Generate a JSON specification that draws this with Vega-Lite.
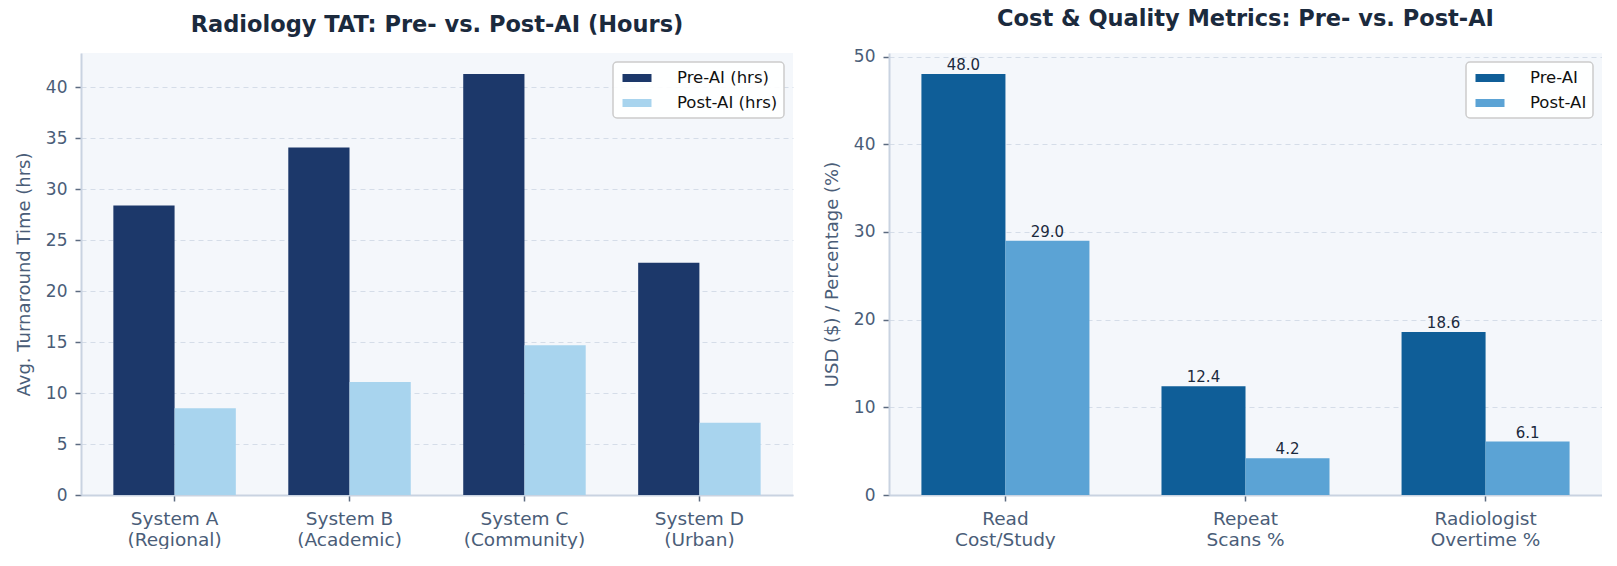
{
  "$schema": "https://vega.github.io/schema/vega-lite/v6.json",
  "background": "white",
  "padding": {"left": 15, "top": 8, "right": 0, "bottom": 0},
  "spacing": 30,
  "config": {
    "font": "DejaVu Sans",
    "view": {"fill": "#f4f7fb", "stroke": null},
    "axis": {
      "labelFont": "DejaVu Sans", "titleFont": "DejaVu Sans",
      "labelColor": "#4a5d78", "titleColor": "#4a5d78",
      "tickColor": "#5c6b80", "tickSize": 6, "tickWidth": 1.5,
      "domainColor": "#c9d3e1", "domainWidth": 2,
      "gridColor": "#d5dde8", "gridDash": [5, 4], "gridWidth": 1,
      "titleFontWeight": "normal"
    },
    "axisX": {"grid": false, "labelAngle": 0, "labelFontSize": 18.5, "labelPadding": 8, "labelLineHeight": 21},
    "axisY": {"grid": true, "labelFontSize": 17, "labelPadding": 8, "titleFontSize": 18, "titlePadding": 12},
    "title": {"fontSize": 22.5, "fontWeight": "bold", "color": "#1b2a3d", "offset": 17, "font": "DejaVu Sans"},
    "legend": {
      "orient": "top-right", "offset": 9, "title": null,
      "labelFont": "DejaVu Sans", "labelFontSize": 16.5, "labelColor": "#111111",
      "fillColor": "rgba(255,255,255,0.9)", "strokeColor": "#cccccc", "strokeWidth": 1.5, "cornerRadius": 4,
      "padding": 6, "rowPadding": 6,
      "symbolType": "M-1.45,-0.4H1.45V0.4H-1.45Z", "symbolSize": 400, "symbolStrokeWidth": 0,
      "symbolOffset": 8, "labelOffset": 30
    }
  },
  "hconcat": [
    {
      "title": "Radiology TAT: Pre- vs. Post-AI (Hours)",
      "width": 712, "height": 442,
      "data": {"values": [
        {"system": "System A|(Regional)", "period": "Pre-AI (hrs)", "hours": 28.4},
        {"system": "System A|(Regional)", "period": "Post-AI (hrs)", "hours": 8.5},
        {"system": "System B|(Academic)", "period": "Pre-AI (hrs)", "hours": 34.1},
        {"system": "System B|(Academic)", "period": "Post-AI (hrs)", "hours": 11.1},
        {"system": "System C|(Community)", "period": "Pre-AI (hrs)", "hours": 41.3},
        {"system": "System C|(Community)", "period": "Post-AI (hrs)", "hours": 14.7},
        {"system": "System D|(Urban)", "period": "Pre-AI (hrs)", "hours": 22.8},
        {"system": "System D|(Urban)", "period": "Post-AI (hrs)", "hours": 7.1}
      ]},
      "encoding": {
        "y": {"field": "hours", "type": "quantitative",
              "scale": {"domain": [0, 43.37], "nice": false},
              "axis": {"title": "Avg. Turnaround Time (hrs)", "values": [0, 5, 10, 15, 20, 25, 30, 35, 40]}},
        "color": {"field": "period", "type": "nominal",
                  "scale": {"domain": ["Pre-AI (hrs)", "Post-AI (hrs)"], "range": ["#1c386a", "#a8d4ee"]}}
      },
      "layer": [
        {
          "transform": [{"filter": "datum.period == 'Pre-AI (hrs)'"}],
          "mark": {"type": "bar", "width": {"band": 0.5}, "xOffset": -30.625},
          "encoding": {
            "x": {"field": "system", "type": "nominal", "sort": null,
                  "scale": {"paddingInner": 0.3, "paddingOuter": 0.185},
                  "axis": {"title": null, "labelExpr": "split(datum.label, '|')"}}
          }
        },
        {
          "transform": [{"filter": "datum.period == 'Post-AI (hrs)'"}],
          "mark": {"type": "bar", "width": {"band": 0.5}, "xOffset": 30.625},
          "encoding": {
            "x": {"field": "system", "type": "nominal", "sort": null}
          }
        }
      ]
    },
    {
      "title": "Cost & Quality Metrics: Pre- vs. Post-AI",
      "width": 713, "height": 442,
      "data": {"values": [
        {"metric": "Read|Cost/Study", "period": "Pre-AI", "value": 48.0},
        {"metric": "Read|Cost/Study", "period": "Post-AI", "value": 29.0},
        {"metric": "Repeat|Scans %", "period": "Pre-AI", "value": 12.4},
        {"metric": "Repeat|Scans %", "period": "Post-AI", "value": 4.2},
        {"metric": "Radiologist|Overtime %", "period": "Pre-AI", "value": 18.6},
        {"metric": "Radiologist|Overtime %", "period": "Post-AI", "value": 6.1}
      ]},
      "encoding": {
        "y": {"field": "value", "type": "quantitative",
              "scale": {"domain": [0, 50.4], "nice": false},
              "axis": {"title": "USD ($) / Percentage (%)", "values": [0, 10, 20, 30, 40, 50]}}
      },
      "layer": [
        {
          "transform": [{"filter": "datum.period == 'Pre-AI'"}],
          "mark": {"type": "bar", "width": {"band": 0.5}, "xOffset": -42},
          "encoding": {
            "x": {"field": "metric", "type": "nominal", "sort": null,
                  "scale": {"paddingInner": 0.3, "paddingOuter": 0.135},
                  "axis": {"title": null, "labelExpr": "split(datum.label, '|')"}},
            "color": {"field": "period", "type": "nominal",
                      "scale": {"domain": ["Pre-AI", "Post-AI"], "range": ["#0f5e98", "#5ba3d5"]}}
          }
        },
        {
          "transform": [{"filter": "datum.period == 'Post-AI'"}],
          "mark": {"type": "bar", "width": {"band": 0.5}, "xOffset": 42},
          "encoding": {
            "x": {"field": "metric", "type": "nominal", "sort": null},
            "color": {"field": "period", "type": "nominal"}
          }
        },
        {
          "transform": [{"filter": "datum.period == 'Pre-AI'"}],
          "mark": {"type": "text", "baseline": "bottom", "dy": -1, "fontSize": 15, "color": "#1b2a3d", "font": "DejaVu Sans"},
          "encoding": {
            "x": {"field": "metric", "type": "nominal", "sort": null, "bandPosition": 0.25},
            "text": {"field": "value", "type": "quantitative", "format": ".1f"}
          }
        },
        {
          "transform": [{"filter": "datum.period == 'Post-AI'"}],
          "mark": {"type": "text", "baseline": "bottom", "dy": -1, "fontSize": 15, "color": "#1b2a3d", "font": "DejaVu Sans"},
          "encoding": {
            "x": {"field": "metric", "type": "nominal", "sort": null, "bandPosition": 0.75},
            "text": {"field": "value", "type": "quantitative", "format": ".1f"}
          }
        }
      ]
    }
  ],
  "resolve": {"scale": {"color": "independent"}}
}
